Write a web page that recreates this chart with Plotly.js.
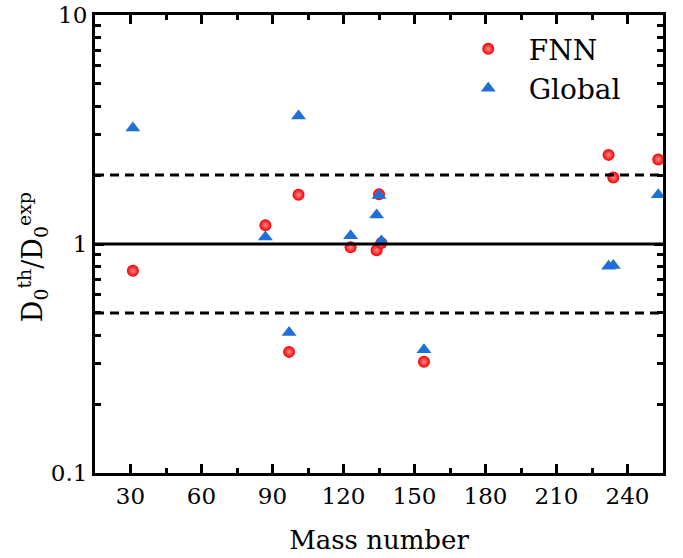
<!DOCTYPE html>
<html>
<head>
<meta charset="utf-8">
<script src="https://cdn.plot.ly/plotly-3.0.1.min.js"></script>
<style>html,body{margin:0;padding:0;background:#fff;}#chart{width:683px;height:558px;}</style>
</head>
<body>
<div id="chart"></div>
<script>
// Mass numbers of the nuclei
var massNumber = [31, 87, 97, 101, 123, 134, 135, 136, 154, 232, 234, 253];
// D0(th)/D0(exp) ratios
var fnnRatio    = [0.764, 1.207, 0.338, 1.64, 0.967, 0.94, 1.65, 1.01, 0.306, 2.45, 1.95, 2.34];
var globalRatio = [3.21, 1.073, 0.411, 3.62, 1.087, 1.34, 1.63, 1.03, 0.345, 0.80, 0.805, 1.64];
// reference lines
var refSolid = [1];
var refDashed = [2, 0.5];
// axes
var xRange = [15, 255];
var xTicks = [30, 60, 90, 120, 150, 180, 210, 240];
var xMinor = [45, 75, 105, 135, 165, 195, 225];
var yTicks = [0.1, 1, 10];
var yTickText = ['0.1', '1', '10'];
var yMinor = [0.2,0.3,0.4,0.5,0.6,0.7,0.8,0.9,2,3,4,5,6,7,8,9];

var font = 'DejaVu Serif';
var traces = [
  {x: massNumber, y: fnnRatio, name: 'FNN', type: 'scatter', mode: 'markers',
   marker: {symbol: 'circle', size: 12, color: '#f00000', gradient: {type: 'radial', color: '#ff8a8a'}, line: {width: 0}}},
  {x: massNumber, y: globalRatio, name: 'Global', type: 'scatter', mode: 'markers',
   marker: {symbol: 'triangle-up', size: 13, color: '#1f6fd8', line: {width: 0}}}
];
refSolid.forEach(function(v){
  traces.push({x: xRange, y: [v, v], mode: 'lines', showlegend: false, hoverinfo: 'skip',
    line: {color: '#000', width: 3}});
});
refDashed.forEach(function(v){
  traces.push({x: xRange, y: [v, v], mode: 'lines', showlegend: false, hoverinfo: 'skip',
    line: {color: '#000', width: 3, dash: '9px,6px'}});
});

var layout = {
  width: 683, height: 558,
  margin: {l: 95, r: 20, t: 15, b: 85},
  paper_bgcolor: '#fff', plot_bgcolor: '#fff',
  font: {family: font, color: '#000', size: 23},
  showlegend: true,
  legend: {x: 0.621, y: 0.98, xanchor: 'left', yanchor: 'top', bgcolor: 'rgba(0,0,0,0)',
    font: {family: font, size: 28, color: '#000'}, itemwidth: 71, tracegroupgap: 0},
  xaxis: {
    range: xRange, showgrid: false, zeroline: false,
    showline: true, linecolor: '#000', linewidth: 3, mirror: 'allticks',
    ticks: 'inside', ticklen: 9, tickwidth: 3, tickcolor: '#000',
    tickmode: 'array', tickvals: xTicks,
    tickfont: {family: font, size: 23, color: '#000'},
    minor: {tickmode: 'array', tickvals: xMinor, ticks: 'inside', ticklen: 5, tickwidth: 3, tickcolor: '#000', showgrid: false},
    title: {text: 'Mass number', font: {family: font, size: 26, color: '#000'}, standoff: 24}
  },
  yaxis: {
    type: 'log', range: [-1, 1], showgrid: false, zeroline: false,
    showline: true, linecolor: '#000', linewidth: 3, mirror: 'allticks',
    ticks: 'inside', ticklen: 9, tickwidth: 3, tickcolor: '#000',
    tickmode: 'array', tickvals: yTicks, ticktext: yTickText,
    tickfont: {family: font, size: 23, color: '#000'},
    minor: {tickmode: 'array', tickvals: yMinor, ticks: 'inside', ticklen: 6, tickwidth: 3, tickcolor: '#000', showgrid: false}
  },
  annotations: [{
    xref: 'paper', yref: 'paper', x: -0.11, y: 0.47, xanchor: 'center', yanchor: 'middle',
    textangle: -90, showarrow: false,
    text: 'D<sub>0</sub><sup>th</sup>/D<sub>0</sub><sup>exp</sup>',
    font: {family: font, size: 27, color: '#000'}
  }]
};
Plotly.newPlot('chart', traces, layout, {displayModeBar: false, staticPlot: true});
</script>
</body>
</html>
